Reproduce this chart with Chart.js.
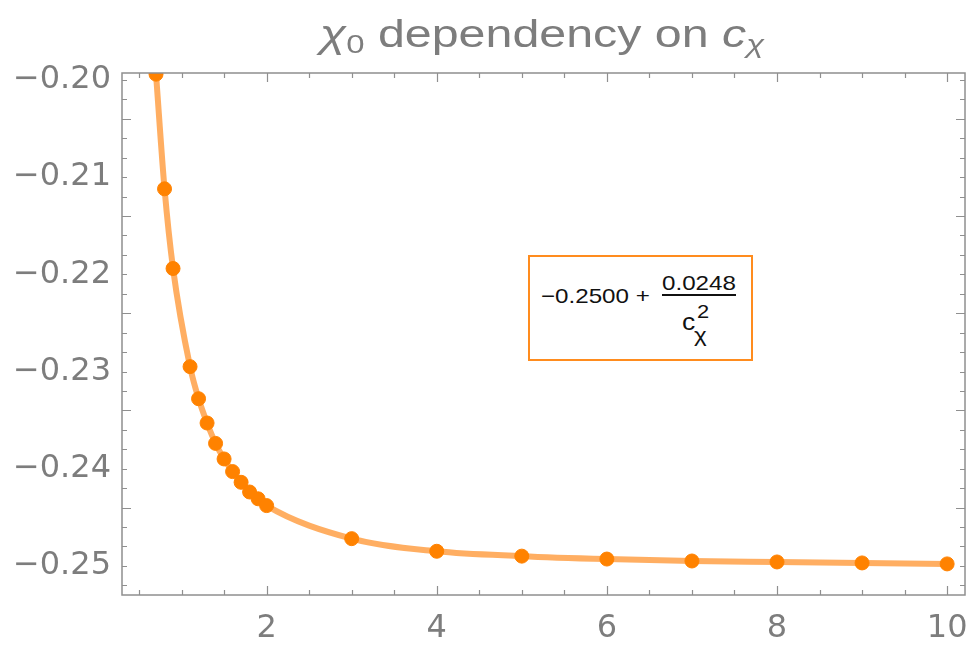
<!DOCTYPE html>
<html>
<head>
<meta charset="utf-8">
<script src="https://cdn.jsdelivr.net/npm/chart.js@4.4.0/dist/chart.umd.min.js"></script>
<style>
  html, body { margin: 0; padding: 0; background: #fff; }
  #wrap { position: relative; width: 974px; height: 648px; overflow: hidden; }
  #chart { position: absolute; left: 0; top: 0; }
  #title {
    position: absolute; left: 542px; top: 14px;
    font-family: 'Liberation Sans', Arial, sans-serif; font-size: 39px; line-height: 1;
    color: #7d7d7d; white-space: nowrap;
    transform: translateX(-50%) scaleX(1.24);
  }
  #title sub { font-size: 0.68em; vertical-align: -0.22em; line-height: 0; }
  #fitBox {
    position: absolute; left: 528px; top: 255px; width: 225px; height: 106px;
    box-sizing: border-box; border: 2px solid #ff8c1e; background: #fff;
  }
  .fx {
    position: absolute; font-family: 'Liberation Sans', Arial, sans-serif;
    line-height: 1; color: #111; white-space: nowrap;
    transform: scaleX(1.15); transform-origin: left top;
  }
</style>
</head>
<body>
<div id="wrap">
  <canvas id="chart" width="974" height="648"></canvas>
  <div id="title"><i>χ</i><sub>0</sub> dependency on <i>c</i><sub><i>χ</i></sub></div>
  <div id="fitBox"></div>
  <span class="fx" style="left:541px; top:285px; font-size:21px;">−0.2500 +</span>
  <span class="fx" style="left:662px; top:272px; font-size:21px;">0.0248</span>
  <span style="position:absolute; left:662px; top:294px; width:74px; height:1.5px; background:#111;"></span>
  <span class="fx" style="left:682px; top:311px; font-size:23px;">c</span>
  <span class="fx" style="left:697px; top:302px; font-size:19px;">2</span>
  <span class="fx" style="left:694px; top:324px; font-size:21px;">χ</span>
</div>
<script>
// valeurs
const cChi = [0.7, 0.8, 0.9, 1.1, 1.2, 1.3, 1.4, 1.5, 1.6, 1.7, 1.8, 1.9, 2, 3, 4, 5, 6, 7, 8, 9, 10];
const chi0 = [-0.1994, -0.2112, -0.2194, -0.2295, -0.2328, -0.2353, -0.2374, -0.2390, -0.2403, -0.2414,
              -0.2424, -0.2431, -0.2438, -0.2472, -0.2485, -0.2490, -0.2493, -0.2495, -0.2496, -0.2497, -0.2498];

// graduations
const xTicks = [2, 4, 6, 8, 10];
const yTicks = [-0.25, -0.24, -0.23, -0.22, -0.21, -0.20];

const points = cChi.map((c, i) => ({ x: c, y: chi0[i] }));

const frameColor = '#8f8f8f';
const labelColor = '#7d7d7d';

// cadre + graduations vers l'intérieur (style Mathematica)
const framePlugin = {
    id: 'frame',
    afterDraw(chart) {
        const { ctx, chartArea: a, scales } = chart;
        const xs = scales.x, ys = scales.y;
        ctx.save();
        ctx.strokeStyle = frameColor;
        ctx.lineWidth = 1.5;
        ctx.strokeRect(a.left, a.top, a.right - a.left, a.bottom - a.top);
        ctx.lineWidth = 1.2;
        ctx.beginPath();
        for (let k = 1; k <= 20; k++) {
            const v = k * 0.5;
            const px = Math.round(xs.getPixelForValue(v)) + 0.5;
            if (px < a.left || px > a.right) continue;
            const len = (k % 4 === 0) ? 9 : 5;
            ctx.moveTo(px, a.bottom); ctx.lineTo(px, a.bottom - len);
            ctx.moveTo(px, a.top); ctx.lineTo(px, a.top + len);
        }
        for (let k = 0; k <= 26; k++) {
            const v = -0.252 + k * 0.002;
            const py = Math.round(ys.getPixelForValue(v)) + 0.5;
            if (py < a.top || py > a.bottom) continue;
            const len = (k % 5 === 4) ? 9 : 5;
            ctx.moveTo(a.left, py); ctx.lineTo(a.left + len, py);
            ctx.moveTo(a.right, py); ctx.lineTo(a.right - len, py);
        }
        ctx.stroke();
        ctx.restore();
    }
};

new Chart(document.getElementById('chart'), {
    type: 'scatter',
    data: {
        datasets: [{
            data: points,
            backgroundColor: '#ff8200',
            borderColor: '#ff8200',
            pointRadius: 7,
            pointHoverRadius: 7,
            showLine: false,
            clip: 0,
            order: 0
        }, {
            data: points,
            borderColor: 'rgba(255, 160, 70, 0.85)',
            borderWidth: 6,
            pointRadius: 0,
            showLine: true,
            cubicInterpolationMode: 'monotone',
            clip: 0,
            order: 1
        }]
    },
    options: {
        responsive: false,
        animation: false,
        devicePixelRatio: 1,
        layout: { padding: { top: 73, right: 9, left: 0, bottom: 0 } },
        plugins: {
            legend: { display: false },
            tooltip: { enabled: false },
            title: { display: false }
        },
        scales: {
            x: {
                type: 'linear',
                min: 0.3,
                max: 10.21,
                grid: { display: false, drawTicks: false },
                border: { display: false },
                afterBuildTicks: s => { s.ticks = xTicks.map(v => ({ value: v })); },
                afterFit: s => { s.height = 53; s.paddingLeft = 0; s.paddingRight = 0; },
                ticks: {
                    color: labelColor,
                    padding: 14,
                    maxRotation: 0,
                    font: { family: 'DejaVu Sans', size: 32 },
                    callback: v => String(v)
                }
            },
            y: {
                type: 'linear',
                min: -0.253,
                max: -0.19928,
                grid: { display: false, drawTicks: false },
                border: { display: false },
                afterBuildTicks: s => { s.ticks = yTicks.map(v => ({ value: v })); },
                afterFit: s => { s.width = 122; s.paddingTop = 0; s.paddingBottom = 0; },
                ticks: {
                    color: labelColor,
                    padding: 11,
                    font: { family: 'DejaVu Sans', size: 32 },
                    callback: v => '−' + Math.abs(v).toFixed(2)
                }
            }
        }
    },
    plugins: [framePlugin]
});
</script>
</body>
</html>
